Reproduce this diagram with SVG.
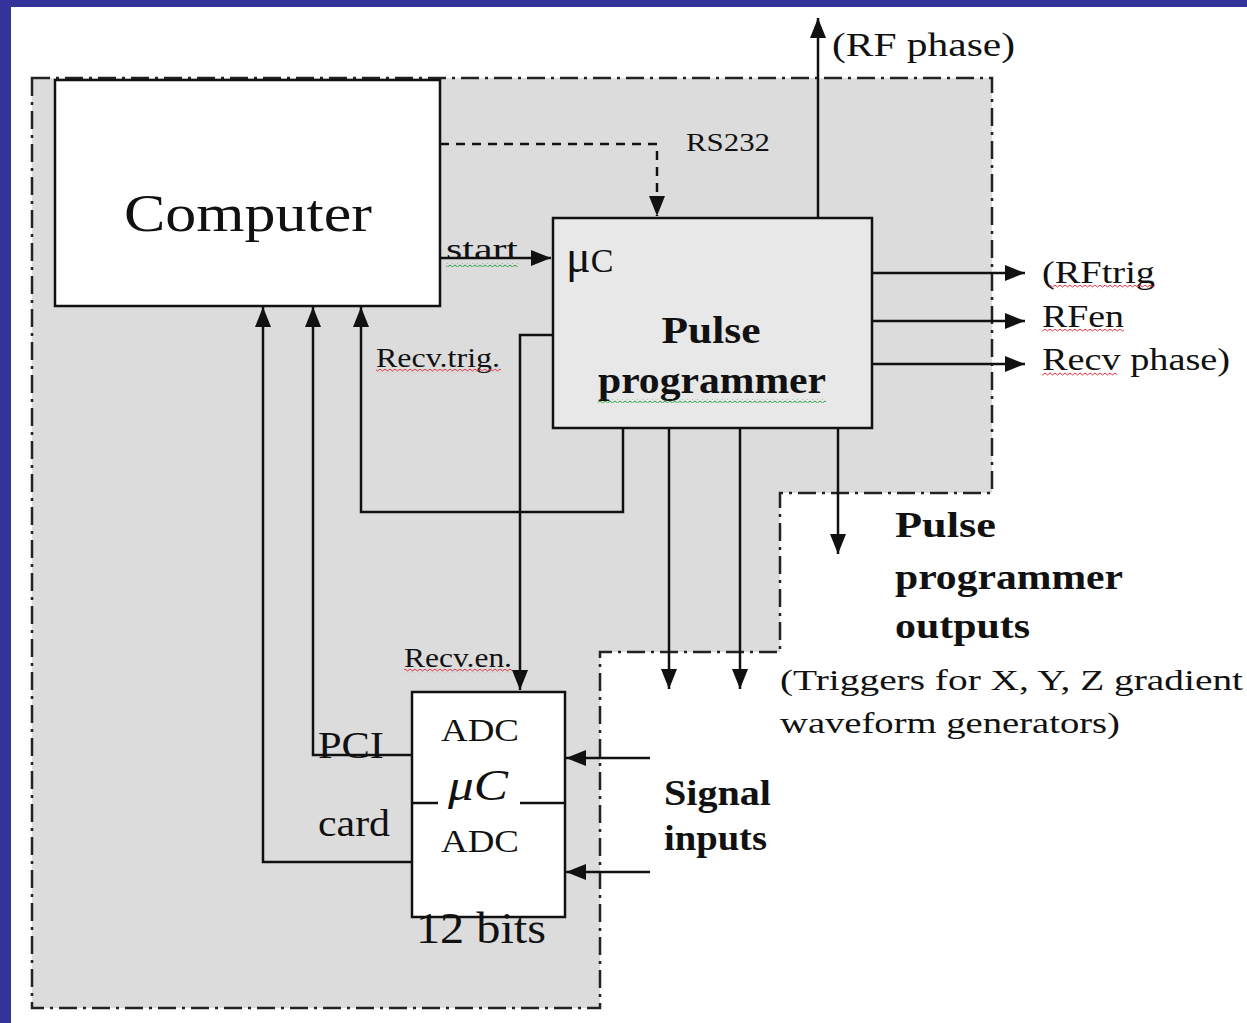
<svg xmlns="http://www.w3.org/2000/svg" width="1247" height="1023" viewBox="0 0 1247 1023">
<defs>
<style>
.ln{fill:none;stroke:#111;stroke-width:2.5}
.dash{fill:none;stroke:#111;stroke-width:2.5;stroke-dasharray:9 7}
.t{font-family:"Liberation Serif","DejaVu Serif",serif;fill:#111}
.b{font-weight:bold}
</style>
<marker id="ah" markerUnits="userSpaceOnUse" markerWidth="22" markerHeight="18" refX="20" refY="8" orient="auto">
<path d="M0,0 L20,8 L0,16 z" fill="#111"/>
</marker>
<pattern id="wr" width="5" height="4" patternUnits="userSpaceOnUse">
<polyline points="0,1 2.5,3 5,1" fill="none" stroke="#e03040" stroke-width="1"/>
</pattern>
<pattern id="wg" width="5" height="4" patternUnits="userSpaceOnUse">
<polyline points="0,1 2.5,3 5,1" fill="none" stroke="#30a040" stroke-width="1"/>
</pattern>
</defs>
<rect x="0" y="0" width="1247" height="1023" fill="#ffffff"/>
<rect x="0" y="0" width="1247" height="7" fill="#333399"/>
<rect x="0" y="0" width="11" height="1023" fill="#333399"/>

<g id="region">
<path d="M32,78 H992 V493 H780 V652 H600 V1008 H32 Z" fill="#dcdcdc" stroke="#222" stroke-width="2.5" stroke-dasharray="18 6 3 6"/>
</g>

<g id="computer">
<rect x="55" y="80" width="385" height="226" fill="#ffffff" stroke="#111" stroke-width="2.5"/>
<text class="t" x="248" y="231" font-size="52" text-anchor="middle" textLength="248" lengthAdjust="spacingAndGlyphs">Computer</text>
</g>

<g id="pulse-programmer">
<rect x="553" y="218" width="319" height="210" fill="#e8e8e8" stroke="#111" stroke-width="2.5"/>
<text class="t" x="566" y="272" font-size="46">μ<tspan font-size="34">C</tspan></text>
<text class="t b" x="711" y="343" font-size="37" text-anchor="middle" textLength="99" lengthAdjust="spacingAndGlyphs">Pulse</text>
<text class="t b" x="712" y="393" font-size="37" text-anchor="middle" textLength="228" lengthAdjust="spacingAndGlyphs">programmer</text>
<rect x="598" y="399" width="228" height="4" fill="url(#wg)"/>
</g>

<g id="adc-card">
<rect x="412" y="692" width="153" height="225" fill="#ffffff" stroke="#111" stroke-width="2.5"/>
<line class="ln" x1="412" y1="803" x2="438" y2="803"/>
<line class="ln" x1="520" y1="803" x2="565" y2="803"/>
<text class="t" x="441" y="741" font-size="32" textLength="78" lengthAdjust="spacingAndGlyphs">ADC</text>
<text class="t" x="448" y="800" font-size="44" font-style="italic" textLength="60" lengthAdjust="spacingAndGlyphs">μC</text>
<text class="t" x="441" y="852" font-size="32" textLength="78" lengthAdjust="spacingAndGlyphs">ADC</text>
</g>

<g id="connectors">
<path class="dash" d="M440,144 H657 V216" marker-end="url(#ah)"/>
<line class="ln" x1="440" y1="258" x2="551" y2="258" marker-end="url(#ah)"/>
<line class="ln" x1="818" y1="218" x2="818" y2="18" marker-end="url(#ah)"/>
<line class="ln" x1="872" y1="273" x2="1025" y2="273" marker-end="url(#ah)"/>
<line class="ln" x1="872" y1="321" x2="1025" y2="321" marker-end="url(#ah)"/>
<line class="ln" x1="872" y1="364" x2="1025" y2="364" marker-end="url(#ah)"/>
<path class="ln" d="M623,428 V512 H361 V307" marker-end="url(#ah)"/>
<path class="ln" d="M553,335 H520 V690" marker-end="url(#ah)"/>
<line class="ln" x1="669" y1="428" x2="669" y2="689" marker-end="url(#ah)"/>
<line class="ln" x1="740" y1="428" x2="740" y2="689" marker-end="url(#ah)"/>
<line class="ln" x1="838" y1="428" x2="838" y2="554" marker-end="url(#ah)"/>
<path class="ln" d="M412,755 H313 V307" marker-end="url(#ah)"/>
<path class="ln" d="M412,862 H263 V307" marker-end="url(#ah)"/>
<line class="ln" x1="650" y1="758" x2="566" y2="758" marker-end="url(#ah)"/>
<line class="ln" x1="650" y1="872" x2="566" y2="872" marker-end="url(#ah)"/>
</g>

<g id="labels">
<text class="t" x="686" y="151" font-size="26" textLength="84" lengthAdjust="spacingAndGlyphs">RS232</text>
<text class="t" x="446" y="259" font-size="30" textLength="72" lengthAdjust="spacingAndGlyphs">start</text>
<rect x="446" y="263" width="72" height="4" fill="url(#wg)"/>
<text class="t" x="832" y="56" font-size="34" textLength="183" lengthAdjust="spacingAndGlyphs">(RF phase)</text>
<text class="t" x="1042" y="283" font-size="32" textLength="113" lengthAdjust="spacingAndGlyphs">(RFtrig</text>
<rect x="1050" y="285" width="105" height="4" fill="url(#wr)"/>
<text class="t" x="1042" y="327" font-size="32" textLength="82" lengthAdjust="spacingAndGlyphs">RFen</text>
<rect x="1042" y="329" width="82" height="4" fill="url(#wr)"/>
<text class="t" x="1042" y="370" font-size="32" textLength="188" lengthAdjust="spacingAndGlyphs">Recv phase)</text>
<rect x="1042" y="372" width="75" height="4" fill="url(#wr)"/>
<text class="t" x="376" y="367" font-size="27" textLength="124" lengthAdjust="spacingAndGlyphs">Recv.trig.</text>
<rect x="376" y="369" width="125" height="4" fill="url(#wr)"/>
<text class="t" x="404" y="667" font-size="27" textLength="108" lengthAdjust="spacingAndGlyphs">Recv.en.</text>
<rect x="404" y="669" width="108" height="4" fill="url(#wr)"/>
<text class="t" x="318" y="758" font-size="38" textLength="66" lengthAdjust="spacingAndGlyphs">PCI</text>
<text class="t" x="318" y="836" font-size="38" textLength="72" lengthAdjust="spacingAndGlyphs">card</text>
<text class="t" x="416" y="943" font-size="44" textLength="130" lengthAdjust="spacingAndGlyphs">12 bits</text>
<text class="t b" x="664" y="805" font-size="36" textLength="107" lengthAdjust="spacingAndGlyphs">Signal</text>
<text class="t b" x="664" y="850" font-size="36" textLength="103" lengthAdjust="spacingAndGlyphs">inputs</text>
<text class="t b" x="895" y="537" font-size="36" textLength="101" lengthAdjust="spacingAndGlyphs">Pulse</text>
<text class="t b" x="895" y="589" font-size="36" textLength="228" lengthAdjust="spacingAndGlyphs">programmer</text>
<text class="t b" x="895" y="638" font-size="36" textLength="135" lengthAdjust="spacingAndGlyphs">outputs</text>
<text class="t" x="780" y="690" font-size="30" textLength="463" lengthAdjust="spacingAndGlyphs">(Triggers for X, Y, Z gradient</text>
<text class="t" x="780" y="733" font-size="30" textLength="340" lengthAdjust="spacingAndGlyphs">waveform generators)</text>
</g>
</svg>
